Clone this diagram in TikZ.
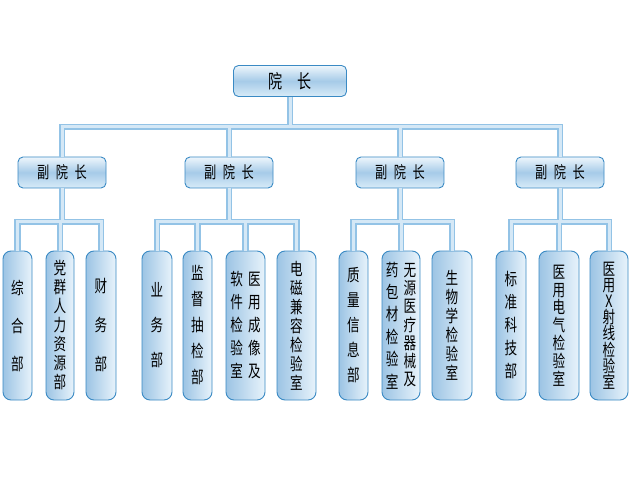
\documentclass[tikz,border=0pt]{standalone}
\usepackage{fontspec}
\newfontfamily\cjk[FakeStretch=0.74]{Noto Sans CJK SC}
\definecolor{nodeborder}{HTML}{3A8AC4}
\definecolor{vtop}{HTML}{EEF6FC}
\definecolor{vmid}{HTML}{A6CBE8}
\definecolor{vbot}{HTML}{D8EBF8}
\definecolor{leafleft}{HTML}{9CC4E4}
\definecolor{leafright}{HTML}{E8F3FB}
\definecolor{connout}{HTML}{93C3E6}
\definecolor{connin}{HTML}{D5E8F6}
\newcommand\vcol[2]{\vtop{\fontsize{17pt}{#1}\selectfont\lineskiplimit=-50pt\lineskip=0pt\halign{\hfil##\hfil\cr#2\crcr}}}
\newcommand\myconns[1]{%
  \draw[#1] (T.south) -- (b0);
  \draw[#1] (V1.north) |- (b0);
  \draw[#1] (V2.north) |- (b0);
  \draw[#1] (V3.north) |- (b0);
  \draw[#1] (V4.north) |- (b0);
  \draw[#1] (V1.south) -- (g1);
  \draw[#1] (L1.north) |- (g1);
  \draw[#1] (L2.north) -- (L2.north |- g1);
  \draw[#1] (L3.north) |- (g1);
  \draw[#1] (V2.south) -- (g2);
  \draw[#1] (L4.north) |- (g2);
  \draw[#1] (L5.north) -- (L5.north |- g2);
  \draw[#1] (L6.north) -- (L6.north |- g2);
  \draw[#1] (L7.north) |- (g2);
  \draw[#1] (V3.south) -- (g3);
  \draw[#1] (L8.north) |- (g3);
  \draw[#1] (L9.north) -- (L9.north |- g3);
  \draw[#1] (L10.north) |- (g3);
  \draw[#1] (V4.south) -- (g4);
  \draw[#1] (L11.north) |- (g4);
  \draw[#1] (L12.north) -- (L12.north |- g4);
  \draw[#1] (L13.north) |- (g4);
}
\begin{document}
\begin{tikzpicture}[x=1pt,y=-1pt,
  headbox/.style={draw=nodeborder, line width=0.9pt, rounded corners=5pt,
    top color=vtop, bottom color=vbot, middle color=vmid, inner sep=0pt},
  leafbox/.style={draw=nodeborder, line width=0.9pt, rounded corners=8pt,
    left color=leafleft, right color=leafright, inner sep=0pt,
    minimum height=149pt, minimum width=#1},
  connouter/.style={line width=6.5pt, draw=connout},
  conninner/.style={line width=3pt, draw=connin}]
\useasboundingbox (0,0) rectangle (631,478);
\fill[white] (0,0) rectangle (631,478);
% top
\node[headbox, minimum width=113pt, minimum height=31pt, font=\cjk\fontsize{19pt}{22pt}\selectfont] (T) at (290,81) {院\hspace{15pt}长};
% vice
\foreach \n/\x in {V1/62, V2/229, V3/400, V4/560}{
  \node[headbox, minimum width=88pt, minimum height=31pt, font=\cjk\fontsize{16.5pt}{19pt}\selectfont] (\n) at (\x,172.5) {副\hspace{6.5pt}院\hspace{6.5pt}长};
}
\coordinate (b0) at (290,127);
\coordinate (g1) at (62,222);
\coordinate (g2) at (229,222);
\coordinate (g3) at (400,222);
\coordinate (g4) at (560,222);
% leaves
\begin{scope}[font=\cjk]
\node[leafbox=29pt] (L1) at (17.5,325.5) {\raisebox{6pt}{\vcol{38pt}{综\cr 合\cr 部}}};
\node[leafbox=28pt] (L2) at (60,325.5) {\raisebox{2pt}{\vcol{19pt}{党\cr 群\cr 人\cr 力\cr 资\cr 源\cr 部}}};
\node[leafbox=30pt] (L3) at (101,325.5) {\raisebox{6pt}{\vcol{39pt}{财\cr 务\cr 部}}};
\node[leafbox=30pt] (L4) at (157,325.5) {\raisebox{3pt}{\vcol{35pt}{业\cr 务\cr 部}}};
\node[leafbox=29pt] (L5) at (197.5,325.5) {\vcol{26pt}{监\cr 督\cr 抽\cr 检\cr 部}};
\node[leafbox=39pt] (L6) at (245.5,325.5) {\vcol{23pt}{软\cr 件\cr 检\cr 验\cr 室}\hspace{5pt}\vcol{23pt}{医\cr 用\cr 成\cr 像\cr 及}};
\node[leafbox=39pt] (L7) at (296.5,325.5) {\vcol{19pt}{电\cr 磁\cr 兼\cr 容\cr 检\cr 验\cr 室}};
\node[leafbox=29pt] (L8) at (353.5,325.5) {\raisebox{2pt}{\vcol{25pt}{质\cr 量\cr 信\cr 息\cr 部}}};
\node[leafbox=38pt] (L9) at (401,325.5) {\vcol{22.4pt}{药\cr 包\cr 材\cr 检\cr 验\cr 室}\hspace{5pt}\vcol{18.3pt}{无\cr 源\cr 医\cr 疗\cr 器\cr 械\cr 及}};
\node[leafbox=40pt] (L10) at (452,325.5) {\vcol{19pt}{生\cr 物\cr 学\cr 检\cr 验\cr 室}};
\node[leafbox=30pt] (L11) at (511,325.5) {\vcol{23pt}{标\cr 准\cr 科\cr 技\cr 部}};
\node[leafbox=40pt] (L12) at (559,325.5) {\vcol{17.8pt}{医\cr 用\cr 电\cr 气\cr 检\cr 验\cr 室}};
\node[leafbox=38pt] (L13) at (609,325.5) {\vcol{16.2pt}{医\cr 用\cr X\cr 射\cr 线\cr 检\cr 验\cr 室}};
\end{scope}
\myconns{connouter}
\myconns{conninner}
\end{tikzpicture}
\end{document}
